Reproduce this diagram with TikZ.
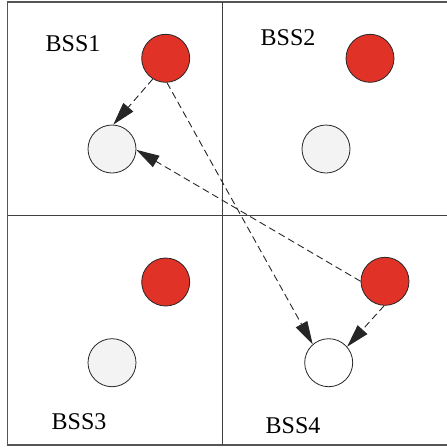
\documentclass[tikz,border=0pt]{standalone}
\usepackage{fontspec}
\setmainfont{Liberation Serif}
\usetikzlibrary{arrows.meta}
\definecolor{apred}{RGB}{224,50,38}
\definecolor{stagray}{RGB}{243,243,243}
\definecolor{framegray}{RGB}{85,85,85}
\tikzset{
  ap/.style={circle, draw=black!85, line width=0.8pt, fill=apred, minimum size=48pt, inner sep=0pt},
  sta/.style={circle, draw=black!85, line width=0.8pt, fill=stagray, minimum size=48pt, inner sep=0pt},
  staw/.style={sta, fill=white},
  frame/.style={draw=framegray, line width=1.3pt},
  grid/.style={draw=black!75, line width=0.9pt},
  link/.style={draw=black!85, line width=0.9pt, dash pattern=on 7pt off 4pt},
  linktip/.style={-{Triangle[length=23pt,width=13pt]}}
}
\tikzset{bsslabel/.style={font=\fontsize{24}{24}\selectfont, anchor=base west, inner sep=0pt}}
\begin{document}
\begin{tikzpicture}[x=1pt,y=1pt]
\useasboundingbox (0,0) rectangle (447,-448);
% outer frame and the dividing cross
\draw[frame] (452,-2) -- (7.5,-2) -- (7.5,-445) -- (452,-445);
\draw[grid] (222,-2) -- (222,-445);
\draw[grid] (7.5,-215.7) -- (452,-215.7);
% cell labels
\node[bsslabel] (l1) at (45.5,-51) {BSS1};
\node[bsslabel] (l2) at (260.5,-45.3) {BSS2};
\node[bsslabel] (l3) at (51.5,-429.7) {BSS3};
\node[bsslabel] (l4) at (265.5,-433) {BSS4};
% access points
\node[ap] (a1) at (165.7,-58.3) {};
\node[ap] (a2) at (370,-58.3) {};
\node[ap] (a3) at (165.7,-282) {};
\node[ap] (a4) at (385,-281.3) {};
% stations
\node[sta] (s1) at (112,-149) {};
\node[sta] (s2) at (326,-149) {};
\node[sta] (s3) at (112,-362.7) {};
\node[staw] (s4) at (328.7,-362.7) {};
% links
\draw[link,linktip] (a1.238) -- (s1.87);
\draw[link,linktip] (a1.273) -- (s4.131);
\draw[link,linktip] (a4.180) -- (s1.-2);
\draw[link,linktip] (a4.268) -- (s4.41);
\end{tikzpicture}
\end{document}
